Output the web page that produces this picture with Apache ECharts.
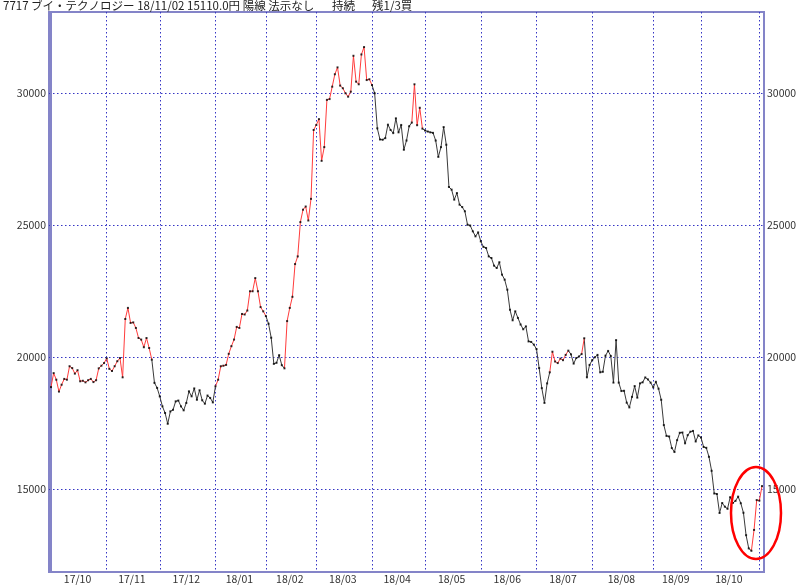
<!DOCTYPE html>
<html>
<head>
<meta charset="utf-8">
<script src="https://cdn.jsdelivr.net/npm/echarts@6/dist/echarts.min.js"></script>
<style>
html,body{margin:0;padding:0;background:#ffffff;}
#chart{width:800px;height:585px;}
</style>
</head>
<body>
<div id="chart"></div>
<script>
// ---- data ----
const titleMain = '7717 ブイ・テクノロジー 18/11/02 15110.0円 陽線 法示なし';
const titleState = '持続';
const titleSignal = '残1/3買';

const monthLabels = ['17/10','17/11','17/12','18/01','18/02','18/03','18/04','18/05','18/06','18/07','18/08','18/09','18/10','18/11'];

const oct17 = [18860,19390,19140,18690,18950,19170,19140,19650,19580,19370,19500,19080,19100,19040,19120,19170,19050,19120,19570,19670,19770];
const nov17 = [19950,19550,19470,19650,19840,19960,19230,21440,21860,21290,21310,21100,20720,20660,20370,20720,20340,19900,19020,18830];
const dec17 = [18510,18130,17880,17470,17940,18000,18320,18350,18130,17980,18260,18700,18510,18810,18380,18740,18360,18230,18540,18450,18280];
const jan18 = [18890,19140,19650,19670,19700,20120,20410,20660,21140,21100,21630,21610,21760,22490,22490,22990,22490,21890,21730];
const feb18 = [21550,21260,20730,19740,19780,20070,19690,19570,21360,21860,22280,23520,23810,25110,25580,25700,25170,25990,28600];
const mar18 = [28790,29010,27430,27950,29740,29770,30240,30710,30970,30280,30180,29990,29860,30050,31410,30430,30330,31460,31740,30490,30520];
const apr18 = [30300,29990,28660,28240,28230,28290,28800,28600,28480,29040,28510,28790,27850,28200,28740,28880,30330,28780,29440,28650];
const may18 = [28580,28540,28510,28490,28200,27580,27950,28710,28040,26440,26340,25960,26210,25770,25680,25520,25010,24980,24760,24570,24720];
const jun18 = [24380,24170,24130,23810,23750,23460,23370,23590,23120,22930,22550,21790,21390,21730,21480,21230,21050,21160,20590,20570,20470];
const jul18 = [20300,19580,18820,18260,19000,19420,20200,19830,19770,19940,19880,20080,20240,20100,19750,19960,20020,20110,20710,19230,19700];
const aug18 = [19880,19990,20080,19420,19440,20050,20230,20040,19030,20640,19030,18710,18720,18270,18090,18490,18900,18460,19000,19040,19225,19150,19030];
const sep18 = [18850,19060,18800,18380,17420,17010,16990,16550,16400,16850,17130,17140,16730,17040,17170,17200,16800,17030];
const oct18 = [16950,16590,16560,16220,15690,14830,14810,14090,14470,14330,14250,14690,14470,14550,14710,14460,14100,13250,12750,12660,13450,14580];
const nov18 = [14560,15110];

// index ranges (trading-day positions) drawn in red
const redRanges = [[0,38],[62,81],[88,121],[136,140],[188,195],[200,201],[264,268]];

const yTicks = [15000,20000,25000,30000];

// ---- build ----
const monthData = [oct17,nov17,dec17,jan18,feb18,mar18,apr18,may18,jun18,jul18,aug18,sep18,oct18,nov18];
const closes = [].concat(...monthData);
const N = closes.length;
const monthStarts = [];
let acc = 0;
monthData.forEach(m => { monthStarts.push(acc); acc += m.length; });
const labelValues = [];
const labelMap = {};
for (let k = 0; k < monthData.length - 1; k++) {
  const mid = (monthStarts[k] + monthStarts[k + 1] - 1) / 2;
  labelValues.push(mid);
  labelMap[String(mid)] = monthLabels[k];
}

function segIsRed(i) {
  return redRanges.some(r => i >= r[0] && i + 1 <= r[1]);
}
function buildSeg(wantRed) {
  const out = [];
  let lastPushed = -1;
  for (let i = 0; i < N - 1; i++) {
    if (segIsRed(i) === wantRed) {
      if (lastPushed !== i) out.push([i, closes[i]]);
      out.push([i + 1, closes[i + 1]]);
      lastPushed = i + 1;
    } else if (lastPushed === i) {
      out.push([i + 0.5, '-']);
    }
  }
  return out;
}
const redData = buildSeg(true);
const blackData = buildSeg(false);
const dotData = closes.map((v, i) => [i, v]);

const FONT = 'Noto Sans CJK JP';
const frameColor = '#8484c8';
const gridColor = '#3535c4';
const labelColor = '#333333';

const chart = echarts.init(document.getElementById('chart'), null, {renderer: 'canvas'});
chart.setOption({
  animation: false,
  backgroundColor: '#ffffff',
  title: [
    {text: titleMain, left: 3, top: 0, padding: 0, textStyle: {fontSize: 11.5, fontWeight: 'normal', color: '#222', fontFamily: FONT}},
    {text: titleState, left: 332, top: 0, padding: 0, textStyle: {fontSize: 11.5, fontWeight: 'normal', color: '#222', fontFamily: FONT}},
    {text: titleSignal, left: 372, top: 0, padding: 0, textStyle: {fontSize: 11.5, fontWeight: 'normal', color: '#222', fontFamily: FONT}}
  ],
  grid: {left: 49, right: 36, top: 12, bottom: 13, show: true, borderColor: frameColor, borderWidth: 2, containLabel: false, outerBoundsMode: 'none'},
  xAxis: {
    type: 'value', min: -0.75, max: N - 1 + 0.75,
    axisLine: {show: true, onZero: false, lineStyle: {color: frameColor, width: 2}},
    axisTick: {show: false, customValues: monthStarts},
    axisLabel: {customValues: labelValues, formatter: v => labelMap[String(v)] || '', color: labelColor, fontSize: 10.5, fontFamily: FONT, margin: 2},
    splitLine: {show: true, lineStyle: {color: gridColor, width: 1, type: [1.5, 2.5]}}
  },
  yAxis: [
    {
      type: 'value', min: 11856, max: 33068, position: 'left',
      axisLine: {show: true, lineStyle: {color: frameColor, width: 2}},
      axisTick: {show: false, customValues: yTicks},
      axisLabel: {customValues: yTicks, formatter: v => String(v), color: labelColor, fontSize: 10.5, fontFamily: FONT, margin: 3},
      splitLine: {show: true, lineStyle: {color: gridColor, width: 1, type: [1.5, 2.5]}}
    },
    {
      type: 'value', min: 11856, max: 33068, position: 'right',
      axisLine: {show: true, lineStyle: {color: frameColor, width: 2}},
      axisTick: {show: false, customValues: yTicks},
      axisLabel: {customValues: yTicks, formatter: v => String(v), color: labelColor, fontSize: 10.5, fontFamily: FONT, margin: 3},
      splitLine: {show: false}
    }
  ],
  series: [
    {type: 'line', data: blackData, yAxisIndex: 0, showSymbol: false, symbol: 'none', connectNulls: false,
     lineStyle: {color: '#3a3a3a', width: 1}, z: 3},
    {type: 'line', data: redData, yAxisIndex: 0, showSymbol: false, symbol: 'none', connectNulls: false,
     lineStyle: {color: '#ff3c3c', width: 1}, z: 4},
    {type: 'scatter', data: dotData, yAxisIndex: 0, symbol: 'rect', symbolSize: 2,
     itemStyle: {color: '#000000'}, z: 5}
  ],
  graphic: [
    {type: 'ellipse', shape: {cx: 756, cy: 513, rx: 25, ry: 46}, style: {fill: 'none', stroke: '#ff0000', lineWidth: 2.5}, z: 100}
  ]
});
</script>
</body>
</html>
